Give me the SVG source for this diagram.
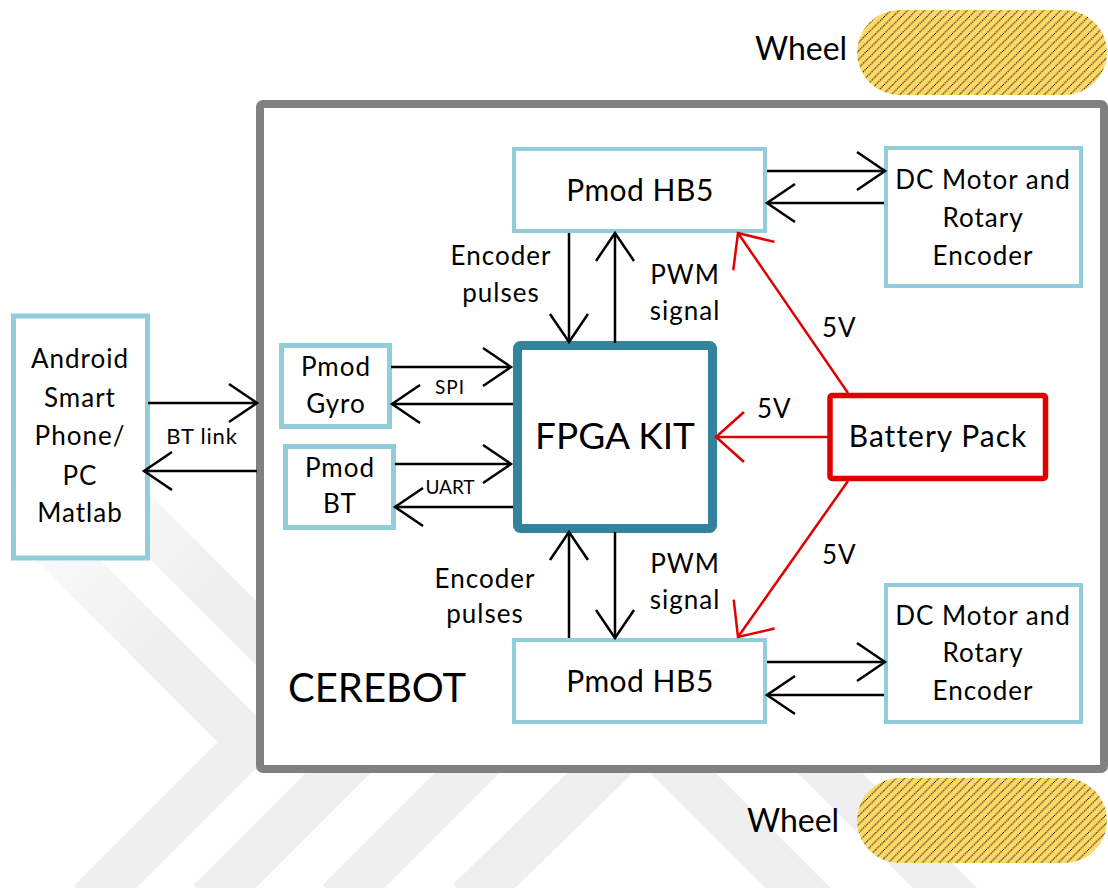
<svg xmlns="http://www.w3.org/2000/svg" width="1108" height="888" viewBox="0 0 1108 888">
<defs>
<style>
text{font-family:Lato,"Open Sans","Liberation Sans",sans-serif;fill:#000}
.lbl{font-size:26px;letter-spacing:1px}
.node{fill:#fff;stroke:#92CDDC}
.c{fill:none;stroke:#000;stroke-width:2.5;marker-end:url(#ah)}
.r{fill:none;stroke:#e00000;stroke-width:2.5;marker-end:url(#ahr)}
.wm{fill:none;stroke:url(#fade);stroke-width:46}
.wheel{fill:url(#hatch)}
</style>
<linearGradient id="fade" gradientUnits="userSpaceOnUse" x1="30" y1="460" x2="190" y2="620">
<stop offset="0" stop-color="#ffffff"/>
<stop offset="1" stop-color="#efefef"/>
</linearGradient>
<pattern id="hatch" patternUnits="userSpaceOnUse" width="8.5" height="8.5">
<rect width="8.5" height="8.5" fill="#FFD966"/>
<path d="M0,8.5 L8.5,0 M-1,1 L1,-1 M7.5,9.5 L9.5,7.5" stroke="#000" stroke-width="1.1" stroke-dasharray="1.2,1"/>
</pattern>
<marker id="ah" markerUnits="userSpaceOnUse" orient="auto" overflow="visible" markerWidth="1" markerHeight="1" refX="0" refY="0">
<path d="M-28,-19 L0,0 L-28,19" fill="none" stroke="#000" stroke-width="2.5"/>
</marker>
<marker id="ahr" markerUnits="userSpaceOnUse" orient="auto" overflow="visible" markerWidth="1" markerHeight="1" refX="0" refY="0">
<path d="M-28,-25 L0,0 L-28,25" fill="none" stroke="#e00000" stroke-width="2.5"/>
</marker>
</defs>
<rect width="1108" height="888" fill="#fff"/>
<g id="watermark">
<path class="wm" d="M-20,472 L250,742 L90,902"/>
<path class="wm" d="M110,487 L367,744 L210,901"/>
<path class="wm" d="M339,901 L500,740"/>
<path class="wm" d="M469,901 L642,732 L820,910"/>
<path class="wm" d="M780,723 L970,913"/>
</g>
<g id="cerebot">
<rect x="260" y="104" width="844" height="665" rx="3" fill="#fff" stroke="#808080" stroke-width="8"/>
<text x="288" y="702" font-size="40">CEREBOT</text>
</g>
<g id="wheel-top">
<rect class="wheel" x="857" y="10" width="250" height="85" rx="42.5"/>
<text x="801" y="60" font-size="32" text-anchor="middle">Wheel</text>
</g>
<g id="wheel-bottom">
<rect class="wheel" x="857" y="778" width="250" height="85" rx="42.5"/>
<text x="793" y="832" font-size="32" text-anchor="middle">Wheel</text>
</g>
<g id="android">
<rect class="node" x="13.5" y="316" width="134" height="242" stroke-width="5"/>
<text class="lbl" text-anchor="middle" x="80"><tspan x="80" y="368">Android</tspan><tspan x="80" y="407">Smart</tspan><tspan x="80" y="445">Phone/</tspan><tspan x="80" y="485">PC</tspan><tspan x="80" y="522">Matlab</tspan></text>
</g>
<g id="pmod-gyro">
<rect class="node" x="281.5" y="345.5" width="108" height="81" stroke-width="5"/>
<text class="lbl" text-anchor="middle" x="336"><tspan x="336" y="376">Pmod</tspan><tspan x="336" y="413">Gyro</tspan></text>
</g>
<g id="pmod-bt">
<rect class="node" x="285.5" y="446.5" width="108" height="81" stroke-width="5"/>
<text class="lbl" text-anchor="middle" x="340"><tspan x="340" y="477">Pmod</tspan><tspan x="340" y="513">BT</tspan></text>
</g>
<g id="fpga">
<rect x="517.5" y="345.5" width="195" height="183" rx="3" fill="#fff" stroke="#31849B" stroke-width="9"/>
<text x="615" y="449" font-size="37" text-anchor="middle">FPGA KIT</text>
</g>
<g id="hb5-top">
<rect class="node" x="514" y="149" width="251" height="82" stroke-width="4"/>
<text x="640" y="201" font-size="30" text-anchor="middle" letter-spacing="0.5">Pmod HB5</text>
</g>
<g id="hb5-bottom">
<rect class="node" x="514" y="640" width="251" height="82" stroke-width="4"/>
<text x="640" y="692" font-size="30" text-anchor="middle" letter-spacing="0.5">Pmod HB5</text>
</g>
<g id="dc-top">
<rect class="node" x="886" y="148" width="195" height="138" stroke-width="4"/>
<text class="lbl" text-anchor="middle" x="983"><tspan x="983" y="189">DC Motor and</tspan><tspan x="983" y="227">Rotary</tspan><tspan x="983" y="265">Encoder</tspan></text>
</g>
<g id="dc-bottom">
<rect class="node" x="886" y="585" width="195" height="137" stroke-width="4"/>
<text class="lbl" text-anchor="middle" x="983"><tspan x="983" y="625">DC Motor and</tspan><tspan x="983" y="662">Rotary</tspan><tspan x="983" y="700">Encoder</tspan></text>
</g>
<g id="battery">
<rect x="830" y="395.5" width="215.5" height="83" rx="2" fill="#fff" stroke="#e00000" stroke-width="5.5"/>
<text x="938" y="447" font-size="30" text-anchor="middle" letter-spacing="1">Battery Pack</text>
</g>
<g id="connectors">
<path class="c" d="M148,403 H257"/>
<path class="c" d="M257,471 H144"/>
<path class="c" d="M391,367 H511"/>
<path class="c" d="M513,404 H392"/>
<path class="c" d="M395,464 H511"/>
<path class="c" d="M513,507 H395"/>
<path class="c" d="M569,233 V342"/>
<path class="c" d="M615,343 V233"/>
<path class="c" d="M569,638 V532"/>
<path class="c" d="M615,532 V638"/>
<path class="c" d="M767,171 H885"/>
<path class="c" d="M884,203 H767"/>
<path class="c" d="M767,662 H885"/>
<path class="c" d="M884,695 H767"/>
<path class="r" d="M830,437 H716"/>
<path class="r" d="M848,393 L738,233"/>
<path class="r" d="M848,481 L738,637"/>
</g>
<g id="labels">
<text x="202" y="444" font-size="22" text-anchor="middle" letter-spacing="0.8">BT link</text>
<text x="450" y="394" font-size="19" text-anchor="middle" letter-spacing="1">SPI</text>
<text x="450" y="494" font-size="19" text-anchor="middle">UART</text>
<text class="lbl" text-anchor="middle" x="501"><tspan x="501" y="265">Encoder</tspan><tspan x="501" y="302">pulses</tspan></text>
<text class="lbl" text-anchor="middle" x="685"><tspan x="685" y="284">PWM</tspan><tspan x="685" y="320">signal</tspan></text>
<text class="lbl" text-anchor="middle" x="485"><tspan x="485" y="588">Encoder</tspan><tspan x="485" y="623">pulses</tspan></text>
<text class="lbl" text-anchor="middle" x="685"><tspan x="685" y="573">PWM</tspan><tspan x="685" y="609">signal</tspan></text>
<text class="lbl" x="822" y="337">5V</text>
<text class="lbl" x="757" y="418">5V</text>
<text class="lbl" x="822" y="564">5V</text>
</g>
</svg>
